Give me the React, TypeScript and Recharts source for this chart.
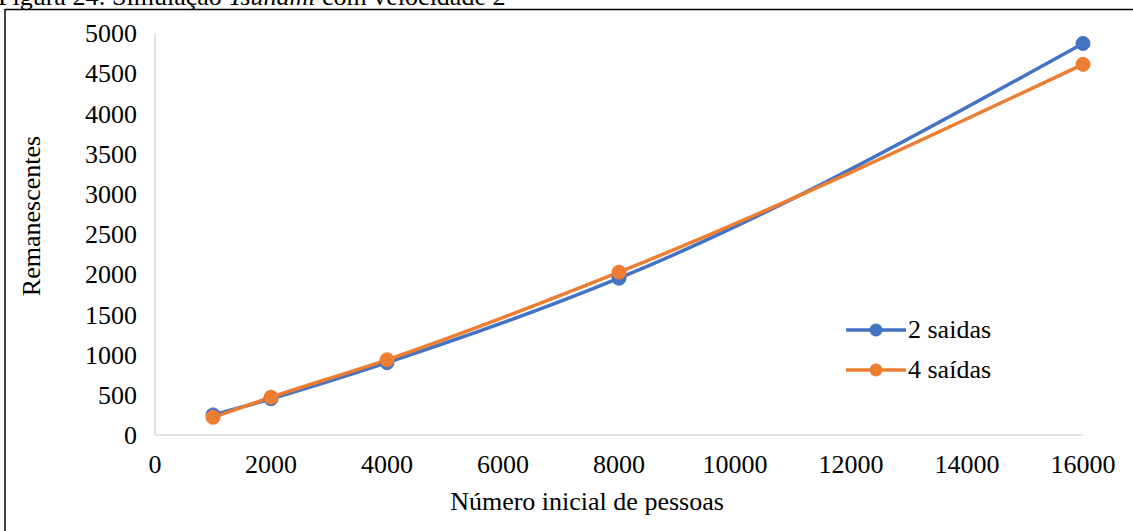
import React from 'react';
import { LineChart, Line, XAxis, YAxis, Legend, Label } from 'recharts';

const pessoas = [1000, 2000, 4000, 8000, 16000];
const duasSaidas = [250, 450, 900, 1950, 4870];
const quatroSaidas = [220, 470, 935, 2025, 4610];
const xTicks = [0, 2000, 4000, 6000, 8000, 10000, 12000, 14000, 16000];
const yTicks = [0, 500, 1000, 1500, 2000, 2500, 3000, 3500, 4000, 4500, 5000];

const data = pessoas.map((p, i) => ({
  pessoas: p,
  duas: duasSaidas[i],
  quatro: quatroSaidas[i],
}));

const font = '"Liberation Serif", "Times New Roman", serif';

function LegendBox({ payload }: any) {
  return (
    <div style={{ fontFamily: font, fontSize: 26, color: '#000' }}>
      {(payload || []).map((item: any) => (
        <div key={item.value} style={{ display: 'flex', alignItems: 'center', height: 40 }}>
          <svg width={60} height={20} style={{ marginRight: 2 }}>
            <line x1={1} y1={10} x2={59} y2={10} stroke={item.color} strokeWidth={3.5} strokeLinecap="round" />
            <circle cx={30} cy={10} r={6.5} fill={item.color} />
          </svg>
          <span>{item.value}</span>
        </div>
      ))}
    </div>
  );
}

export default function App() {
  const tickStyle = { fontSize: 26, fontFamily: font, fill: '#000' };
  return (
    <div style={{ position: 'absolute', left: 0, top: 0, width: 1133, height: 531, overflow: 'hidden', background: '#fff' }}>
      <svg width={1133} height={531} style={{ position: 'absolute', left: 0, top: 0 }}>
        <text x={-2} y={5} fontFamily={font} fontSize={26} fill="#000">
          Figura 24: Simulação <tspan fontStyle="italic">Tsunami</tspan> com velocidade 2
        </text>
        <line x1={5} y1={9.5} x2={1133} y2={9.5} stroke="#000" strokeWidth={1.5} />
        <line x1={5} y1={9} x2={5} y2={531} stroke="#000" strokeWidth={1.5} />
      </svg>
      <div style={{ position: 'absolute', left: 0, top: 0 }}>
        <LineChart width={1133} height={531} data={data} margin={{ top: 33, right: 50, bottom: 16, left: 75 }}>
          <XAxis
            dataKey="pessoas"
            type="number"
            domain={[0, 16000]}
            ticks={xTicks}
            height={80}
            tick={tickStyle}
            tickLine={false}
            tickSize={0}
            tickMargin={20}
            axisLine={{ stroke: '#D9D9D9', strokeWidth: 1.5 }}
          >
            <Label
              value="Número inicial de pessoas"
              position="insideBottom"
              offset={5}
              dx={-32}
              style={{ fontSize: 26, fontFamily: font, fill: '#000' }}
            />
          </XAxis>
          <YAxis
            type="number"
            domain={[0, 5000]}
            ticks={yTicks}
            width={80}
            tick={tickStyle}
            tickLine={false}
            tickSize={0}
            tickMargin={18}
            axisLine={{ stroke: '#D9D9D9', strokeWidth: 1.5 }}
          >
            <Label
              value="Remanescentes"
              angle={-90}
              position="insideLeft"
              offset={0}
              dx={-44}
              dy={-18}
              style={{ fontSize: 26, fontFamily: font, fill: '#000', textAnchor: 'middle' }}
            />
          </YAxis>
          <Legend
            layout="vertical"
            verticalAlign="middle"
            align="center"
            wrapperStyle={{ left: 846, top: 310, width: 220 }}
            content={<LegendBox />}
          />
          <Line
            type="monotone"
            dataKey="duas"
            name="2 saidas"
            stroke="#4472C4"
            strokeWidth={3.5}
            dot={{ r: 7, fill: '#4472C4', stroke: '#4472C4', strokeWidth: 1 }}
            isAnimationActive={false}
          />
          <Line
            type="monotone"
            dataKey="quatro"
            name="4 saídas"
            stroke="#ED7D31"
            strokeWidth={3.5}
            dot={{ r: 7, fill: '#ED7D31', stroke: '#ED7D31', strokeWidth: 1 }}
            isAnimationActive={false}
          />
        </LineChart>
      </div>
    </div>
  );
}
